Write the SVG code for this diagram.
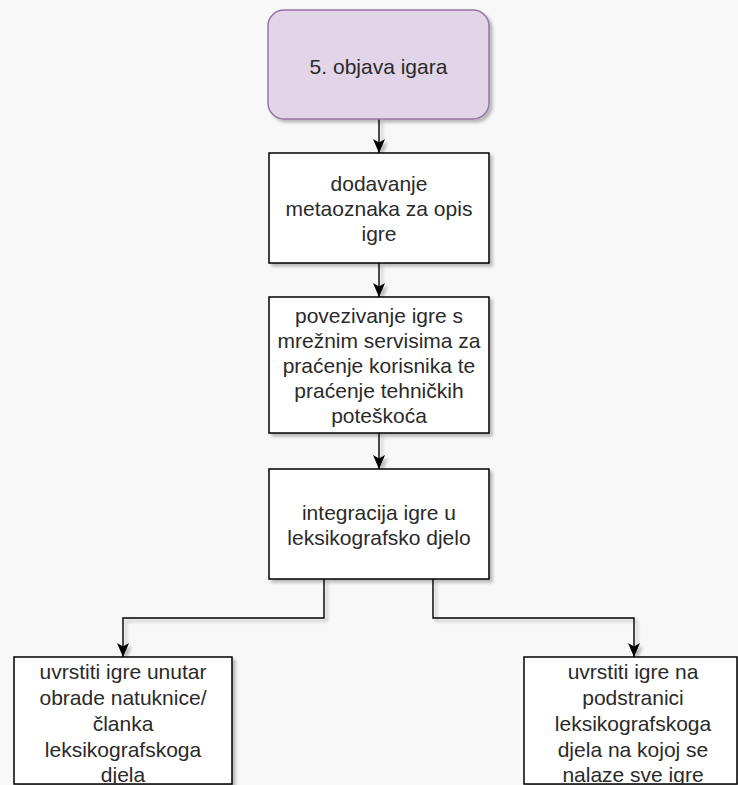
<svg xmlns="http://www.w3.org/2000/svg" width="738" height="785" viewBox="0 0 738 785">
  <style>
    .box { fill: #ffffff; stroke: #000000; stroke-width: 1.5; }
    .start { fill: #e1d5e7; stroke: #9673a6; stroke-width: 1.5; }
    .lbl { font-family: "Liberation Sans", Arial, sans-serif; font-size: 21px; fill: #2a2a2a; text-anchor: middle; }
    .edge { fill: none; stroke: #000000; stroke-width: 1.4; }
  </style>
  <defs>
    <filter id="shadow" x="-10%" y="-10%" width="130%" height="130%">
      <feDropShadow dx="3" dy="3" stdDeviation="1.6" flood-color="#000000" flood-opacity="0.25"/>
    </filter>
    <marker id="arrow" markerUnits="userSpaceOnUse" markerWidth="14" markerHeight="12" viewBox="0 0 14 12" refX="14" refY="6" orient="auto">
      <path d="M0,0 L14,6 L0,12 L3.5,6 Z" fill="#000000"/>
    </marker>
  </defs>
  <rect x="0" y="0" width="738" height="785" fill="#f8f8f8"/>

  <g id="connectors" filter="url(#shadow)">
    <path class="edge" d="M379,119 L379,153" marker-end="url(#arrow)"/>
    <path class="edge" d="M379,263 L379,297" marker-end="url(#arrow)"/>
    <path class="edge" d="M379,433 L379,469" marker-end="url(#arrow)"/>
    <path class="edge" d="M324,579 L324,618 L123,618 L123,657" marker-end="url(#arrow)"/>
    <path class="edge" d="M433,579 L433,618 L634,618 L634,657" marker-end="url(#arrow)"/>
  </g>

  <g id="node-objava">
    <rect class="start" x="268" y="10" width="221" height="109" rx="16" ry="16" filter="url(#shadow)"/>
    <text class="lbl" x="378.5" y="74">5. objava igara</text>
  </g>

  <g id="node-metaoznake">
    <rect class="box" x="269" y="153" width="220" height="110" filter="url(#shadow)"/>
    <text class="lbl" x="379" y="191">dodavanje</text>
    <text class="lbl" x="379" y="216">metaoznaka za opis</text>
    <text class="lbl" x="379" y="241">igre</text>
  </g>

  <g id="node-povezivanje">
    <rect class="box" x="269" y="297" width="220" height="136" filter="url(#shadow)"/>
    <text class="lbl" x="379" y="323">povezivanje igre s</text>
    <text class="lbl" x="379" y="348">mrežnim servisima za</text>
    <text class="lbl" x="379" y="373">praćenje korisnika te</text>
    <text class="lbl" x="379" y="398">praćenje tehničkih</text>
    <text class="lbl" x="379" y="423">poteškoća</text>
  </g>

  <g id="node-integracija">
    <rect class="box" x="269" y="469" width="220" height="110" filter="url(#shadow)"/>
    <text class="lbl" x="379" y="520">integracija igre u</text>
    <text class="lbl" x="379" y="545">leksikografsko djelo</text>
  </g>

  <g id="node-natuknica">
    <rect class="box" x="14" y="657" width="218" height="127" filter="url(#shadow)"/>
    <text class="lbl" x="123" y="679">uvrstiti igre unutar</text>
    <text class="lbl" x="123" y="705">obrade natuknice/</text>
    <text class="lbl" x="123" y="731">članka</text>
    <text class="lbl" x="123" y="757">leksikografskoga</text>
    <text class="lbl" x="123" y="782">djela</text>
  </g>

  <g id="node-podstranica">
    <rect class="box" x="524" y="657" width="213" height="127" filter="url(#shadow)"/>
    <text class="lbl" x="633" y="679">uvrstiti igre na</text>
    <text class="lbl" x="633" y="705">podstranici</text>
    <text class="lbl" x="633" y="731">leksikografskoga</text>
    <text class="lbl" x="633" y="757">djela na kojoj se</text>
    <text class="lbl" x="633" y="782">nalaze sve igre</text>
  </g>
</svg>
